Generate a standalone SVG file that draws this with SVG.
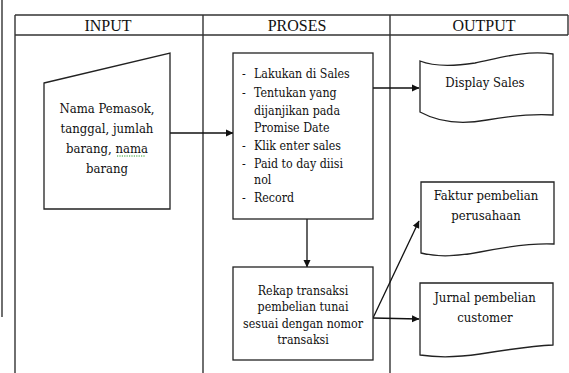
<svg xmlns="http://www.w3.org/2000/svg" width="569" height="373" viewBox="0 0 569 373">
<style>
.hdr{font-family:"Liberation Serif",serif;font-size:16px;text-anchor:middle;fill:#111}
.grid{stroke:#333;stroke-width:1.4;fill:none}
.shape{fill:#fff;stroke:#222;stroke-width:1.3}
.conn{stroke:#111;stroke-width:1.3;fill:none}
</style>
<defs>
<marker id="arr" markerWidth="8" markerHeight="8" refX="7" refY="4" orient="auto" markerUnits="userSpaceOnUse">
<path d="M0,0.5 L7.5,4 L0,7.5 Z" fill="#111"/>
</marker>
</defs>
<rect width="569" height="373" fill="#fff"/>
<g id="frame" class="grid">
<line x1="2" y1="0" x2="2" y2="317"/>
<line x1="15" y1="15" x2="568" y2="15"/>
<line x1="15" y1="35" x2="568" y2="35"/>
<line x1="568" y1="15" x2="568" y2="35"/>
<line x1="15" y1="15" x2="15" y2="373"/>
<line x1="203" y1="15" x2="203" y2="373"/>
<line x1="390" y1="15" x2="390" y2="373"/>
</g>
<g id="headers">
<text class="hdr" x="108" y="31">INPUT</text>
<text class="hdr" x="297" y="31">PROSES</text>
<text class="hdr" x="484" y="31">OUTPUT</text>
</g>
<g id="connectors">
<line class="conn" x1="170" y1="133" x2="233" y2="133" marker-end="url(#arr)"/>
<line class="conn" x1="373" y1="88" x2="419" y2="88" marker-end="url(#arr)"/>
<line class="conn" x1="307" y1="219" x2="307" y2="267" marker-end="url(#arr)"/>
<line class="conn" x1="373" y1="318" x2="419" y2="319" marker-end="url(#arr)"/>
<line class="conn" x1="373" y1="318" x2="419" y2="221" marker-end="url(#arr)"/>
</g>
<g id="input">
<polygon class="shape" points="44,83 170,53 170,209 44,209"/>
<g font-family="DejaVu Serif Condensed, DejaVu Serif, serif" font-size="13" text-anchor="middle" fill="#111">
<text x="107" y="113">Nama Pemasok,</text>
<text x="107" y="133">tanggal, jumlah</text>
<text x="107" y="153">barang, nama</text>
<text x="107" y="173">barang</text>
</g>
<path d="M117,156 H145" stroke="#2a9a2a" stroke-width="1" stroke-dasharray="1.2,1.2" fill="none"/>
</g>
<g id="proses1">
<rect class="shape" x="233" y="53" width="140" height="166"/>
<g font-family="DejaVu Serif Condensed, DejaVu Serif, serif" font-size="12.3" fill="#111">
<text y="78"><tspan x="242">-</tspan><tspan x="254">Lakukan di Sales</tspan></text>
<text y="97"><tspan x="242">-</tspan><tspan x="254">Tentukan yang</tspan></text>
<text x="254" y="115">dijanjikan pada</text>
<text x="254" y="132">Promise Date</text>
<text y="150"><tspan x="242">-</tspan><tspan x="254">Klik enter sales</tspan></text>
<text y="168"><tspan x="242">-</tspan><tspan x="254">Paid to day diisi</tspan></text>
<text x="254" y="184">nol</text>
<text y="202"><tspan x="242">-</tspan><tspan x="254">Record</tspan></text>
</g>
</g>
<g id="proses2">
<rect class="shape" x="233" y="267" width="140" height="93"/>
<g font-family="DejaVu Serif Condensed, DejaVu Serif, serif" font-size="12.3" text-anchor="middle" fill="#111">
<text x="303" y="295">Rekap transaksi</text>
<text x="303" y="311">pembelian tunai</text>
<text x="303" y="328">sesuai dengan nomor</text>
<text x="303" y="344">transaksi</text>
</g>
</g>
<g id="display">
<path class="shape" d="M420,61 C435,67 455,66 475,63 C500,58 525,50 553,54 V115 C530,113 505,117 487,120 C465,124 440,123 420,112 Z"/>
<text x="485" y="87" font-family="DejaVu Serif Condensed, DejaVu Serif, serif" font-size="13" text-anchor="middle" fill="#111">Display Sales</text>
</g>
<g id="faktur">
<path class="shape" d="M421,182 H554 V244 C535,243 510,246 480,252 C460,256 440,258 421,253 Z"/>
<g font-family="DejaVu Serif Condensed, DejaVu Serif, serif" font-size="13" text-anchor="middle" fill="#111">
<text x="486" y="200">Faktur pembelian</text>
<text x="486" y="220">perusahaan</text>
</g>
</g>
<g id="jurnal">
<path class="shape" d="M420,283 H553 V345 C530,346 505,350 480,354 C460,357 440,358 420,355 Z"/>
<g font-family="DejaVu Serif Condensed, DejaVu Serif, serif" font-size="13" text-anchor="middle" fill="#111">
<text x="485" y="302">Jurnal pembelian</text>
<text x="485" y="322">customer</text>
</g>
</g>
</svg>
